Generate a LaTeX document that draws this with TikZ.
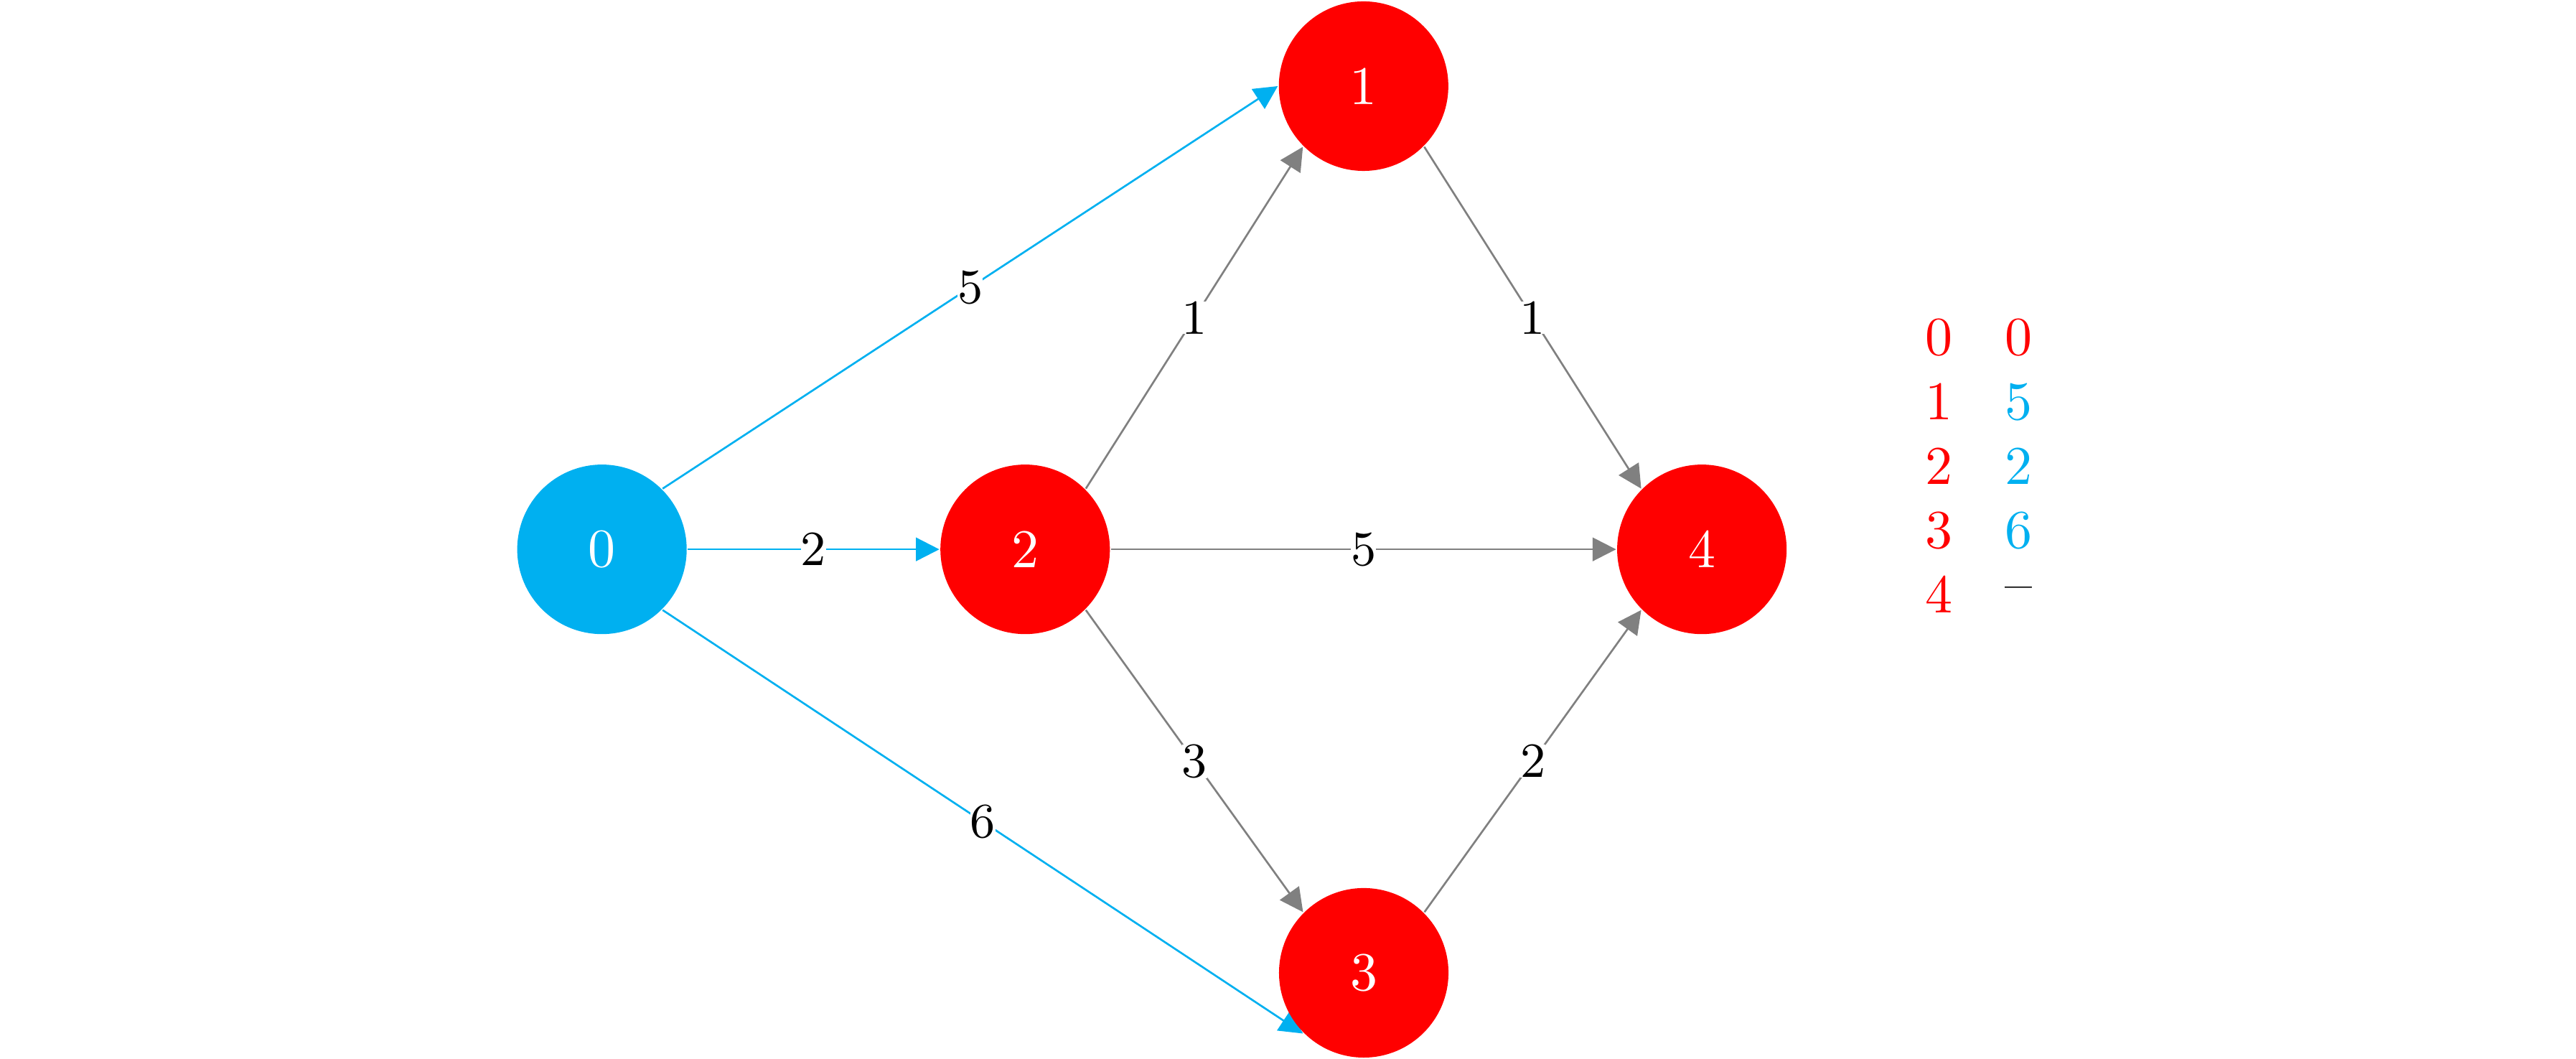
\documentclass[tikz,border=0pt]{standalone}
\usetikzlibrary{arrows.meta,backgrounds}
\definecolor{pathblue}{HTML}{00B0F0}
\definecolor{nodered}{HTML}{FF0000}
\colorlet{linkgray}{black!50}
\tikzset{vertex/.style={circle, minimum size=1.092cm, inner sep=0pt, text=white},
    srcvertex/.style={vertex, fill=pathblue},
    redvertex/.style={vertex, fill=nodered},
    link/.style={draw=linkgray, line width=0.35pt, -{Triangle[length=4.3pt,width=4.3pt]}},
    treelink/.style={link, draw=pathblue},
    weight/.style={fill=white, inner sep=0pt, font=\small, text=black}}

\begin{document}
\begin{tikzpicture}
        \useasboundingbox (0,0) rectangle (16.6,6.822);

        % Vertices
        \node[srcvertex] (n0) at (3.879,3.283) {0};
        \node[redvertex] (n2) at (6.606,3.283) {2};
        \node[redvertex] (n1) at (8.787,6.267) {1};
        \node[redvertex] (n3) at (8.788,0.555) {3};
        \node[redvertex] (n4) at (10.967,3.283) {4};

        % Weighted edges
        \begin{scope}[on background layer]
            \draw[treelink] (n0.north east) -- node[weight] {5} (n1.west);
            \draw[treelink] (n0.east) -- node[weight] {2} (n2.west);
            \draw[treelink] (n0.south east) -- node[weight] {6} (n3.south west);
            \draw[link] (n2.north east) -- node[weight] {1} (n1.south west);
            \draw[link] (n2.east) -- node[weight] {5} (n4.west);
            \draw[link] (n2.south east) -- node[weight] {3} (n3.north west);
            \draw[link] (n1.south east) -- node[weight] {1} (n4.north west);
            \draw[link] (n3.north east) -- node[weight] {2} (n4.south west);
        \end{scope}

        % Distance table
        \foreach \d/\c [count=\i from 0] in {0/nodered, 5/pathblue, 2/pathblue, 6/pathblue, --/black} {
            \node[text=nodered] (v\i) at (12.493,{4.648-0.414*\i}) {\i};
            \node[text=\c] (d\i) at (13.010,{4.648-0.414*\i}) {\d};
        }
    \end{tikzpicture}
\end{document}
